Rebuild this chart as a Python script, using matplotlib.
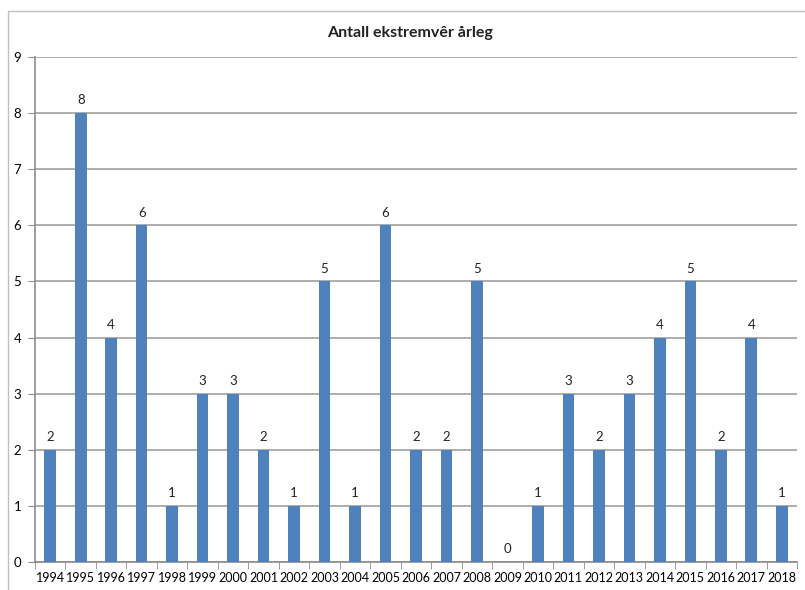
import matplotlib
matplotlib.use("Agg")
import matplotlib.pyplot as plt
from matplotlib.patches import Rectangle

years = [str(y) for y in range(1994, 2019)]
counts = [2, 8, 4, 6, 1, 3, 3, 2, 1, 5, 1, 6, 2, 2, 5, 0, 1, 3, 2, 3, 4, 5, 2, 4, 1]
title = "Antall ekstremvêr årleg"

plt.rcParams['font.family'] = ['Lato', 'DejaVu Sans']

fig = plt.figure(figsize=(8.05, 5.9), dpi=100)
ax = fig.add_axes([35 / 805, 1 - 562 / 590, (797 - 35) / 805, (562 - 57) / 590])

# chart-area border (top/left visible in the reference)
fig.patches.append(Rectangle((8 / 805, -0.05), 1.0, 1 - 11 / 590 + 0.05,
                             transform=fig.transFigure, fill=False,
                             edgecolor="#bfbfbf", linewidth=1.0))

x = range(len(years))
ax.bar(x, counts, width=0.38, color="#4f81bd", zorder=3)
for xi, v in zip(x, counts):
    ax.text(xi, v + 0.12, str(v), ha="center", va="bottom", fontsize=9.5, color="#222222")

ax.set_xlim(-0.5, len(years) - 0.5)
ax.set_ylim(0, 9)
ax.set_yticks(range(10))
ax.set_xticks(list(x))
ax.set_xticklabels(years)
ax.set_xticks([i - 0.5 for i in range(len(years) + 1)], minor=True)
ax.tick_params(axis="x", which="major", length=0, labelsize=9, pad=7)
ax.tick_params(axis="x", which="minor", length=5, color="#8c8c8c", direction="out")
ax.tick_params(axis="y", length=5, color="#8c8c8c", labelsize=9.5, pad=5)

ax.grid(axis="y", color="#a0a0a0", linewidth=1.2, zorder=0)
for side in ["top", "right"]:
    ax.spines[side].set_visible(False)
for side in ["left", "bottom"]:
    ax.spines[side].set_color("#8c8c8c")
    ax.spines[side].set_linewidth(1.2)

fig.text(410 / 805, 1 - 33 / 590, title, ha="center", va="center",
         fontsize=11.5, fontweight="bold", color="#222222")

fig.savefig("out.png", dpi=100)
